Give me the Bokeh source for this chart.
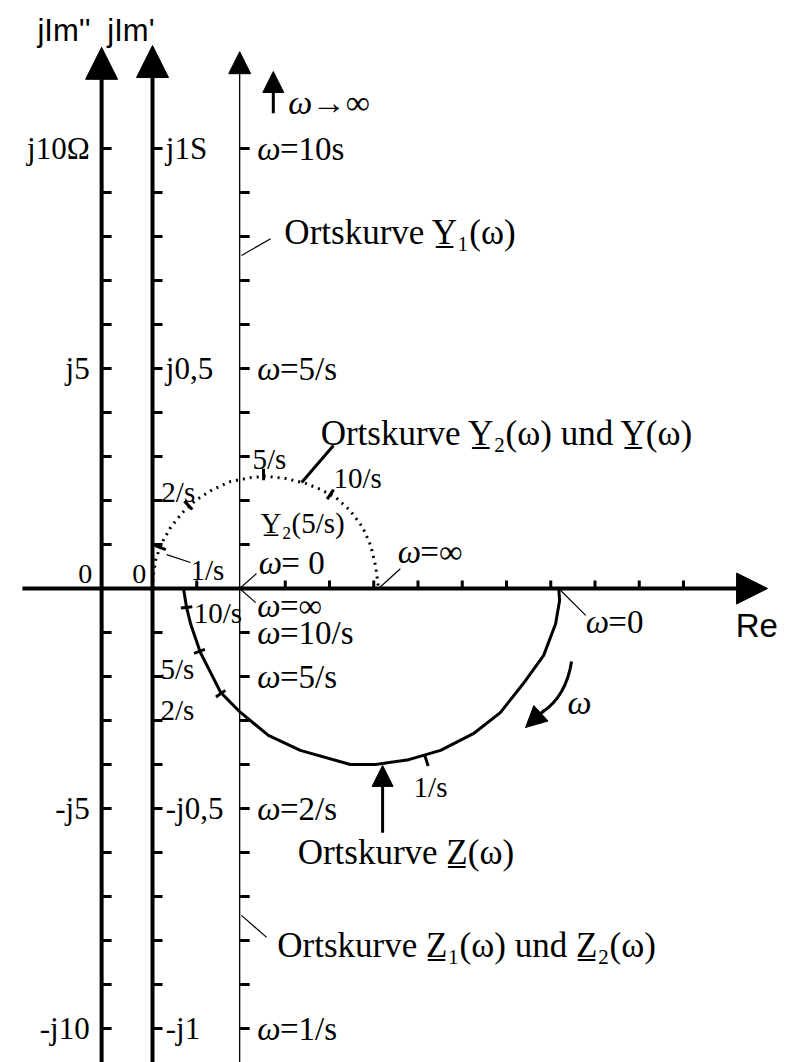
import numpy as np
from bokeh.plotting import figure
from bokeh.models import Range1d, Arrow, NormalHead
from bokeh.core.properties import value
from bokeh.embed import file_html
from bokeh.resources import INLINE

# ---------------------------------------------------------------------------
# Data (grid units: one tick step on every axis)
# ---------------------------------------------------------------------------
# Locus Y2(w) (dotted half circle), origin on the jIm' axis, 1 unit = 0.1 S
y2_re = [0.0, 0.02, 0.07, 0.18, 0.41, 0.68, 0.97, 1.36, 1.76, 2.21, 2.55,
         3.01, 3.46, 3.80, 4.14, 4.47, 4.75, 4.93, 5.04, 5.11]
y2_im = [0.0, 0.30, 0.64, 0.98, 1.39, 1.73, 2.00, 2.25, 2.43, 2.52, 2.55,
         2.50, 2.39, 2.25, 2.07, 1.77, 1.39, 0.98, 0.52, 0.0]
y2_mark_text = ["1/s", "2/s", "5/s", "10/s"]
y2_mark_re = [0.18, 0.81, 2.51, 4.02]
y2_mark_im = [0.93, 1.89, 2.59, 2.14]

# Locus Z(w) (solid half circle below the real axis)
z_re = [9.18, 9.20, 9.11, 8.84, 8.38, 7.86, 7.25, 6.51, 5.79, 5.04, 4.47,
        3.34, 2.62, 1.97, 1.54, 1.08, 0.86, 0.77, 0.70]
z_im = [0.0, -0.27, -0.80, -1.52, -2.16, -2.82, -3.30, -3.68, -3.89, -4.00,
        -4.00, -3.68, -3.34, -2.80, -2.36, -1.45, -0.80, -0.43, 0.0]
z_mark_text = ["10/s", "5/s", "2/s", "1/s"]
z_mark_re = [0.77, 1.06, 1.54, 6.19]
z_mark_im = [-0.43, -1.43, -2.39, -3.91]

# Axis ticks and their labels
im_ticks = [-10, -9, -8, -7, -6, -5, -4, -3, -2, -1, 1, 2, 3, 4, 5, 6, 7, 8, 9, 10]
re_ticks = [1, 3, 4, 5, 6, 7, 8, 9, 10, 11, 12]
imz_labels = {10: "j10Ω", 5: "j5", -5: "-j5", -10: "-j10"}        # jIm'' axis
imy_labels = {10: "j1S", 5: "j0,5", -5: "-j0,5", -10: "-j1"}      # jIm' axis
w_labels = {10: "=10s", 5: "=5/s", -1: "=10/s", -2: "=5/s",
            -5: "=2/s", -10: "=1/s"}                               # Y1 / Z1 line

# ---------------------------------------------------------------------------
# Layout
# ---------------------------------------------------------------------------
UX, UY = 44.25, 44.0           # pixels per grid unit
W, H = 787, 1062
X0, Y1 = -152 / UX, 588 / UY
X1, Y0 = X0 + W / UX, Y1 - H / UY

AX_Z = -1.15    # jIm'' axis
AX_Y = 0.0      # jIm' axis
AX_1 = 1.97     # Y1 / Z1 line

SERIF = "Liberation Serif"
SANS = "Liberation Sans"
BLACK = "black"
LAB = 31        # tick label size
WLAB = 33       # omega label size

p = figure(width=W, height=H, x_range=Range1d(X0, X1), y_range=Range1d(Y0, Y1),
           x_axis_type=None, y_axis_type=None, toolbar_location=None,
           output_backend="svg", min_border=0, outline_line_color=None,
           background_fill_color="white", border_fill_color="white")


def txt(x, y, s, size=LAB, align="left", style="normal", font=SERIF):
    p.text(x=[x], y=[y], text=[s], text_font=value(font),
           text_font_size=f"{size}px", text_align=align,
           text_baseline="middle", text_font_style=style, text_color=BLACK)


def omega_txt(x, y, rest, size=WLAB):
    txt(x, y, "ω", size, style="italic")
    txt(x + size * 0.0155, y, rest, size)


def arrow(x0, y0, x1, y1, width, head):
    p.add_layout(Arrow(end=NormalHead(size=head, fill_color=BLACK, line_color=BLACK,
                                      line_width=1),
                       x_start=x0, y_start=y0, x_end=x1, y_end=y1,
                       line_width=width, line_color=BLACK))


# axes with arrow heads
arrow(AX_Z, Y0 - 1, AX_Z, 12.30, 4, 32)
arrow(AX_Y, Y0 - 1, AX_Y, 12.34, 4, 32)
arrow(AX_1, Y0 - 1, AX_1, 12.20, 1.3, 22)
arrow(-2.94, 0, 13.90, 0, 4, 31)

# tick marks on the vertical axes (pointing right)
tl = 10 / UX
ticks_y = np.array(im_ticks, dtype=float)
for ax in (AX_Z, AX_Y, AX_1):
    p.segment(x0=[ax] * len(ticks_y), y0=ticks_y, x1=[ax + tl] * len(ticks_y),
              y1=ticks_y, line_width=3.2, line_color=BLACK)
# tick marks on the real axis (pointing up)
ticks_x = np.array(re_ticks, dtype=float)
p.segment(x0=ticks_x, y0=[0] * len(ticks_x), x1=ticks_x, y1=[8 / UY] * len(ticks_x),
          line_width=3, line_color=BLACK)

# loci
p.line(y2_re, y2_im, line_width=3, line_dash="2 5", line_color=BLACK)
p.line(z_re, z_im, line_width=3, line_color=BLACK, line_join="round")


def curve_marks(re, im, cx, half):
    re = np.array(re)
    im = np.array(im)
    dx, dy = re - cx, im
    n = np.hypot(dx, dy)
    dx, dy = dx / n, dy / n
    p.segment(x0=re - half * dx, y0=im - half * dy, x1=re + half * dx,
              y1=im + half * dy, line_width=3, line_color=BLACK)


curve_marks(y2_mark_re, y2_mark_im, (y2_re[0] + y2_re[-1]) / 2, 0.13)
curve_marks(z_mark_re, z_mark_im, (z_re[0] + z_re[-1]) / 2, 0.13)

# axis labels
txt(-2.60, 12.68, "jIm''", 31, font=SANS)
txt(-1.02, 12.68, "jIm'", 31, font=SANS)
txt(13.18, -0.84, "Re", 33, font=SANS)
txt(-1.36, 0.34, "0", 28, align="right")
txt(-0.14, 0.34, "0", 28, align="right")
for v, s in imz_labels.items():
    txt(-1.42, v, s, align="right")
for v, s in imy_labels.items():
    txt(0.30, v, s)
for v, s in w_labels.items():
    omega_txt(2.37, v, s)

# frequency labels on the loci
y2_lab_pos = [(0.86, 0.41), (0.20, 2.20), (2.26, 2.95), (4.09, 2.52)]
for (x, y), s in zip(y2_lab_pos, y2_mark_text):
    txt(x, y, s, 29)
z_lab_pos = [(0.93, -0.55), (0.18, -1.82), (0.18, -2.77), (5.90, -4.52)]
for (x, y), s in zip(z_lab_pos, z_mark_text):
    txt(x, y, s, 29)

txt(2.44, 1.48, "Y\u0332₂(5/s)", 29)
omega_txt(2.40, 0.57, " = 0")
omega_txt(2.37, -0.39, "=∞")
omega_txt(5.54, 0.82, "=∞")
omega_txt(9.79, -0.77, "=0")
txt(9.38, -2.59, "ω", 34, style="italic")
omega_txt(3.07, 11.05, "→∞", 34)

txt(2.98, 8.09, "Ortskurve Y\u0332₁(ω)", 35)
txt(3.80, 3.52, "Ortskurve Y\u0332₂(ω) und Y\u0332(ω)", 35)
txt(3.28, -6.00, "Ortskurve Z\u0332(ω)", 35)
txt(2.82, -8.11, "Ortskurve Z\u0332₁(ω) und Z\u0332₂(ω)", 35)

# leader lines
leaders = [((2.01, 7.57), (2.67, 7.95)),
           ((0.32, 0.77), (0.86, 0.59)),
           ((1.97, 0.0), (2.35, 0.34)),
           ((1.97, 0.0), (2.33, -0.32)),
           ((5.11, 0.0), (5.60, 0.45)),
           ((9.18, 0.0), (9.79, -0.61)),
           ((2.01, -7.43), (2.58, -7.93))]
p.segment(x0=[a[0][0] for a in leaders], y0=[a[0][1] for a in leaders],
          x1=[a[1][0] for a in leaders], y1=[a[1][1] for a in leaders],
          line_width=1.2, line_color=BLACK)
p.segment(x0=[4.09], y0=[3.25], x1=[3.37], y1=[2.41], line_width=3, line_color=BLACK)

# small arrows
arrow(2.73, 10.80, 2.73, 11.75, 3, 21)
arrow(5.20, -5.55, 5.20, -4.02, 3, 21)
p.quadratic(x0=[9.47], y0=[-1.66], x1=[8.80], y1=[-2.82], cx=[9.35], cy=[-2.45],
            line_width=3, line_color=BLACK)
arrow(8.85, -2.77, 8.43, -3.16, 3, 21)

open("out.html", "w").write(file_html(p, INLINE))
